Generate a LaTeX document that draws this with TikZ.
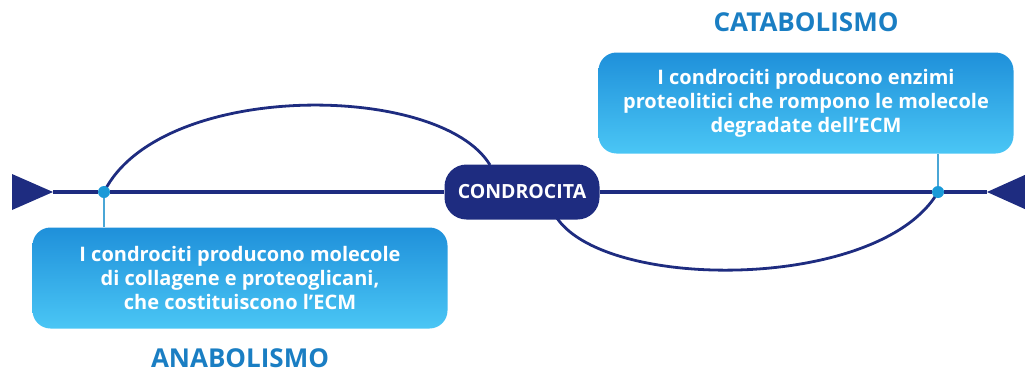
\documentclass[tikz,border=0pt]{standalone}
\usepackage{fontspec}
\setmainfont{Open Sans}
\usetikzlibrary{backgrounds}
\definecolor{navy}{HTML}{1E2C80}
\definecolor{dotblue}{HTML}{1A9AD8}
\definecolor{lblblue}{HTML}{1A7EC3}
\definecolor{boxtop}{HTML}{1F90DA}
\definecolor{boxbot}{HTML}{4AC6F5}
\definecolor{linkblue}{HTML}{4AA6D6}
\tikzset{
  infobox/.style={rounded corners=18pt, top color=boxtop, bottom color=boxbot,
    minimum width=415pt, minimum height=101pt, text=white, align=center,
    font=\fontsize{20}{24}\selectfont\bfseries, inner sep=0pt},
  centerbox/.style={rounded corners=22pt, fill=navy, minimum width=155pt, minimum height=55pt,
    text=white, font=\fontsize{19.5}{22}\selectfont\bfseries, inner sep=0pt},
  junction/.style={circle, fill=dotblue, minimum size=12pt, inner sep=0pt},
  phase/.style={text=lblblue, font=\fontsize{26}{30}\selectfont\bfseries, inner sep=0pt},
  mainline/.style={navy, line width=4.5pt},
  arcline/.style={navy, line width=2.8pt},
  link/.style={linkblue, line width=1.8pt},
  tip/.style={fill=navy},
}
\begin{document}
\begin{tikzpicture}[x=1pt,y=-1pt]
\useasboundingbox (0,0) rectangle (1025,372);
\node[centerbox] (cc) at (522,192) {CONDROCITA};
\node[junction] (dl) at (104,192) {};
\node[junction] (dr) at (938,192) {};
\node[infobox] (ana) at (240,278) {I condrociti producono molecole\\di collagene e proteoglicani,\\che costituiscono l’ECM};
\node[infobox] (cat) at (806,103) {I condrociti producono enzimi\\proteolitici che rompono le molecole\\degradate dell’ECM};
\node[phase] (anl) at (240,358) {ANABOLISMO};
\node[phase] (cal) at (806,22) {CATABOLISMO};
\coordinate (lt) at (53,192);
\coordinate (rt) at (987,192);
\begin{pgfonlayer}{background}
  \draw[mainline] (lt) -- (dl) -- (cc) -- (dr) -- (rt);
  \fill[tip] (12,174) -- (lt) -- (12,210) -- cycle;
  \fill[tip] (1027,174) -- (rt) -- (1027,210) -- cycle;
  \draw[arcline] (dl.center) .. controls (160,80) and (440,82) .. (490,165);
  \draw[arcline] (555,215) .. controls (600,292) and (880,292) .. (dr.center);
  \draw[link] (dl.center) -- (dl |- ana.north);
  \draw[link] (dr.center) -- (dr |- cat.south);
\end{pgfonlayer}
\end{tikzpicture}
\end{document}
